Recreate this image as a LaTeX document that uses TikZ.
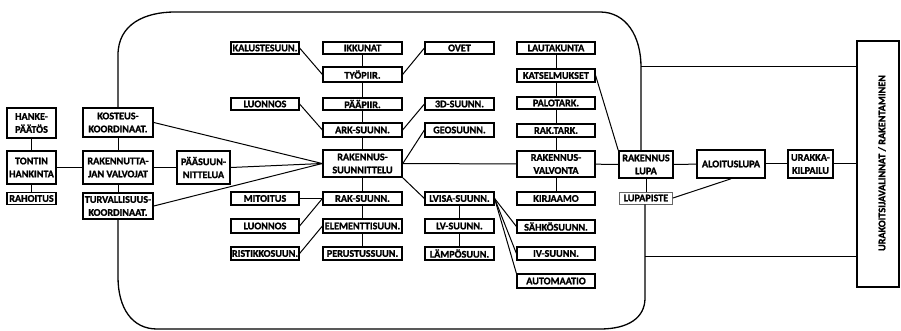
\documentclass[tikz,border=0pt]{standalone}
\usepackage{fontspec}
\setmainfont{Carlito}[BoldFeatures={FakeBold=1.2}]
\begin{document}
\begin{tikzpicture}[x=1pt,y=-1pt,
  box/.style={draw, line width=1.2pt, inner sep=0pt, align=center,
    font=\bfseries\fontsize{10.2}{13}\selectfont},
  bigbox/.style={box, line width=1.6pt},
  sz/.style 2 args={minimum width=#1pt, minimum height=#2pt},
  link/.style={line width=1pt},
  frame/.style={line width=1.3pt},
]
\useasboundingbox (0,0) rectangle (901,331);

% left-hand columns
\node[bigbox, sz={49}{30}] (hanke)   at (31.5,123)   {HANKE-\\PÄÄTÖS};
\node[bigbox, sz={49}{33}] (tontin)  at (31.5,167.5) {TONTIN\\HANKINTA};
\node[bigbox, sz={49}{12}] (rahoitus) at (31.5,198.5) {RAHOITUS};
\node[bigbox, sz={70}{29}] (kosteus) at (118,122.5)  {KOSTEUS-\\KOORDINAAT.};
\node[bigbox, sz={70}{33}] (rakval)  at (118,167.5)  {RAKENNUTTA-\\JAN VALVOJAT};
\node[bigbox, sz={70}{26}] (turva)   at (118,206)    {TURVALLISUUS-\\KOORDINAAT.};
\node[bigbox, sz={53}{33}] (paasuun) at (203.5,167.5) {PÄÄSUUN-\\NITTELUA};

% design branch
\node[box, sz={68}{12}] (kal)   at (265,48)    {KALUSTESUUN.};
\node[box, sz={79}{12}] (ikk)   at (362.5,48)  {IKKUNAT};
\node[box, sz={69}{12}] (ovet)  at (459.5,48)  {OVET};
\node[box, sz={79}{15}] (tyo)   at (362.5,74.5) {TYÖPIIR.};
\node[box, sz={68}{12}] (luo1)  at (265,104)   {LUONNOS};
\node[box, sz={79}{12}] (paa)   at (362.5,104) {PÄÄPIIR.};
\node[box, sz={69}{12}] (d3)    at (459.5,104) {3D-SUUNN.};
\node[box, sz={79}{14}] (ark)   at (362.5,130) {ARK-SUUNN.};
\node[box, sz={69}{14}] (geo)   at (459.5,130) {GEOSUUNN.};
\node[bigbox, sz={79}{27}] (rak) at (362.5,163.5) {RAKENNUS-\\SUUNNITTELU};
\node[box, sz={68}{13}] (mit)   at (265,198.5)   {MITOITUS};
\node[box, sz={79}{13}] (raks)  at (362.5,198.5) {RAK-SUUNN.};
\node[box, sz={69}{13}] (lvisa) at (459.5,198.5) {LVISA-SUUNN.};
\node[box, sz={68}{14}] (luo2)  at (265,226)     {LUONNOS};
\node[box, sz={79}{14}] (elem)  at (362.5,226)   {ELEMENTTISUUN.};
\node[box, sz={69}{14}] (lv)    at (459.5,226)   {LV-SUUNN.};
\node[box, sz={68}{13}] (rist)  at (265,253.5)   {RISTIKKOSUUN.};
\node[box, sz={79}{13}] (perus) at (362.5,253.5) {PERUSTUSSUUN.};
\node[box, sz={69}{13}] (lampo) at (459.5,253.5) {LÄMPÖSUUN.};

% supervision column
\node[box, sz={78}{12}] (laut)    at (556,48)    {LAUTAKUNTA};
\node[box, sz={78}{13}] (kats)    at (556,75.5)  {KATSELMUKSET};
\node[box, sz={78}{12}] (palo)    at (556,103)   {PALOTARK.};
\node[box, sz={78}{13}] (raktark) at (556,130.5) {RAK.TARK.};
\node[bigbox, sz={78}{26}] (valv) at (556,164)   {RAKENNUS-\\VALVONTA};
\node[box, sz={78}{13}] (kirj)    at (556,198.5) {KIRJAAMO};
\node[box, sz={78}{13}] (sahko)   at (556,226.5) {SÄHKÖSUUNN.};
\node[box, sz={78}{13}] (iv)      at (556,253.5) {IV-SUUNN.};
\node[box, sz={78}{14}] (auto)    at (556,281)   {AUTOMAATIO};

% permits and contracting
\node[bigbox, sz={54}{27}] (lupa)    at (646,164.5) {RAKENNUS\\LUPA};
\node[box, sz={53}{12}, line width=0.9pt, draw=black!60] (lupap) at (646,198) {LUPAPISTE};
\node[bigbox, sz={68}{28}] (aloitus) at (731,164)   {ALOITUSLUPA};
\node[bigbox, sz={45}{28}] (urakka)  at (810.5,164) {URAKKA-\\KILPAILU};
\node[draw, line width=1.3pt, sz={42}{246}] (urak) at (878,164) {};
\node[rotate=90, inner sep=0pt, font=\bfseries\fontsize{10.2}{13}\selectfont] (urakt) at (882,163)
  {URAKOITSIJAVALINNAT / RAKENTAMINEN};

% rounded outline of the design and supervision phase
\coordinate (fl1) at (118,55);
\coordinate (fl2) at (175,12);
\coordinate (fr1) at (600,12);
\coordinate (fr2) at (641,67);
\coordinate (fr3) at (645,298);
\coordinate (fr4) at (600,329);
\coordinate (fl4) at (157,329);
\coordinate (fl3) at (118,277);
\coordinate (fr5) at (645,256);
\draw[frame] (kosteus.north) -- (fl1) .. controls (118,24) and (145,12) .. (fl2)
  -- (fr1) .. controls (626,12) and (641,36) .. (fr2) -- (fr2 |- lupa.north);
\draw[frame] (fr3 |- lupap.south) -- (fr3) .. controls (645,318) and (628,329) .. (fr4)
  -- (fl4) .. controls (132,329) and (118,308) .. (fl3) -- (turva.south);
\draw[link] (fr2) -- (fr2 -| urak.west);
\draw[link] (fr5) -- (fr5 -| urak.west);

% left-hand links
\draw[link] (hanke) -- (tontin);
\draw[link] (tontin) -- (rahoitus);
\draw[link] (tontin) -- (rakval);
\draw[link] (kosteus) -- (rakval);
\draw[link] (rakval) -- (turva);
\draw[link] (rakval) -- (paasuun);
\draw[link] (paasuun.east) -- (rak.west);
\draw[link] (kosteus.east) -- (rak.west);
\draw[link] (turva.east) -- (rak.west);

% design links
\draw[link] (kal.east) -- (tyo.west);
\draw[link] (ikk) -- (tyo);
\draw[link] (ovet.west) -- (tyo.east);
\draw[link] (tyo) -- (paa);
\draw[link] (luo1.east) -- (ark.west);
\draw[link] (paa) -- (ark);
\draw[link] (d3.west) -- (ark.east);
\draw[link] (ark) -- (rak);
\draw[link] (geo.west) -- (rak.east);
\draw[link] (rak) -- (raks);
\draw[link] (mit) -- (raks);
\draw[link] (luo2.east) -- (raks.west);
\draw[link] (raks) -- (elem);
\draw[link] (rist.east) -- (elem.west);
\draw[link] (elem) -- (perus);
\draw[link] (rak.south east) -- (lvisa.west);
\draw[link] (lvisa) -- (lv);
\draw[link] (lv) -- (lampo);
\draw[link] (lvisa.east) -- (sahko.west);
\draw[link] (lvisa.east) -- (iv.west);
\draw[link] (lvisa.east) -- (auto.north west);

% supervision links
\draw[link] (laut) -- (kats);
\draw[link] (kats) -- (palo);
\draw[link] (palo) -- (raktark);
\draw[link] (raktark) -- (valv);
\draw[link] (valv) -- (kirj);
\draw[link] (kats.east) -- (lupa.north west);

% main line
\draw[link] (rak) -- (valv);
\draw[link] (valv) -- (lupa);
\draw[link] (lupa) -- (aloitus);
\draw[link] (aloitus) -- (urakka);
\draw[link] (urakka) -- (urak);
\draw[link] (lupa) -- (lupap);
\draw[link] (lupap.east) -- (aloitus.south);
\end{tikzpicture}
\end{document}
